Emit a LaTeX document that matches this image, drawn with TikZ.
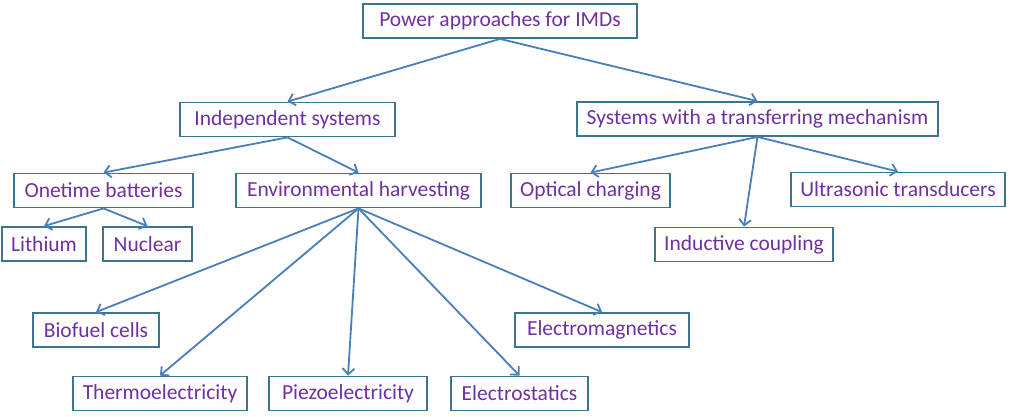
\documentclass[tikz,border=0pt]{standalone}
\usepackage{fontspec}
\setmainfont{Carlito}
\usepackage{xcolor}
\usetikzlibrary{positioning, arrows.meta}
\definecolor{boxline}{HTML}{3A7590}
\definecolor{arrowline}{HTML}{4A7EBB}
\definecolor{labeltext}{HTML}{7030A0}

\begin{document}
\begin{tikzpicture}[x=1pt, y=-1pt]
\tikzset{
>={Straight Barb[length=6pt, width=12pt]}, % open arrow heads
link/.style={->, draw=arrowline, line width=1.8pt}, % sets the properties for each connector
box/.style={draw=boxline, line width=1.8pt, fill=white, text=labeltext,
  minimum height=34pt, inner sep=0pt,
  font=\fontsize{21.5}{25}\selectfont}, % sets the properties for each box
}
	\useasboundingbox (0,0) rectangle (1012,416);
	% top
	\node[box, minimum width=274pt] (root) at (500,21) {Power approaches for IMDs};
	% second row
	\node[box, minimum width=215pt] (indep) at (287.5,119.5) {Independent systems};
	\node[box, minimum width=361pt] (trans) at (757.5,119) {Systems with a transferring mechanism};
	% third row
	\node[box, minimum width=179pt] (onetime) at (103.5,190.5) {Onetime batteries};
	\node[box, minimum width=245pt] (envh) at (358.5,190.5) {Environmental harvesting};
	\node[box, minimum width=159pt] (optic) at (590.5,190.5) {Optical charging};
	\node[box, minimum width=214pt] (ultra) at (898,189.5) {Ultrasonic transducers};
	% fourth row
	\node[box, minimum width=84pt] (lith) at (44,244) {Lithium};
	\node[box, minimum width=89pt, right of=lith, node distance=103.5pt] (nucl) {Nuclear};
	\node[box, minimum width=178pt] (induct) at (744,244.5) {Inductive coupling};
	% harvesting leaves
	\node[box, minimum width=126pt] (biofuel) at (96,330) {Biofuel cells};
	\node[box, minimum width=174pt] (emag) at (602,330) {Electromagnetics};
	\node[box, minimum width=174pt] (thermo) at (160,393.5) {Thermoelectricity};
	\node[box, minimum width=158pt] (piezo) at (348,393.5) {Piezoelectricity};
	\node[box, minimum width=137pt] (estat) at (519.5,393.5) {Electrostatics};

	\foreach \from/\to in {root/indep, root/trans, indep/onetime, indep/envh,
	  onetime/lith, onetime/nucl, trans/optic, trans/induct, trans/ultra,
	  envh/biofuel, envh/thermo, envh/piezo, envh/estat, envh/emag}
	  \draw[link] (\from.south) -- (\to.north);
\end{tikzpicture}
\end{document}
